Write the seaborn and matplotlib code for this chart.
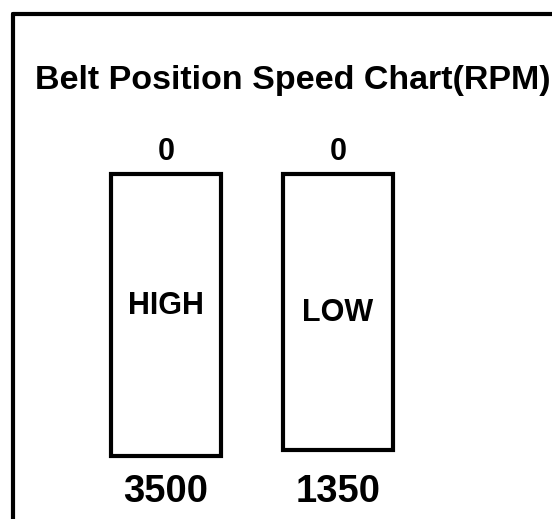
import matplotlib
matplotlib.use("Agg")
import matplotlib.pyplot as plt
import seaborn as sns
import pandas as pd

# Belt positions and their speeds (RPM)
positions = ["HIGH", "LOW"]
start_rpm = [0, 0]
end_rpm = [3500, 1350]
box_len = [1.0, 0.98]

df = pd.DataFrame({"position": positions, "length": box_len})

sns.set_style("white")
plt.rcParams["font.family"] = ["Liberation Sans", "DejaVu Sans"]
plt.rcParams["text.color"] = "black"

fig = plt.figure(figsize=(5.52, 5.19), dpi=100)
ax = fig.add_axes([0, 0, 1, 1])

sns.barplot(data=df, x="position", y="length", color="white",
            edgecolor="black", linewidth=3, width=0.635, ax=ax)

ax.set_xlim(-0.965, 2.244)
ax.set_ylim(1.223, -0.617)
ax.axis("off")

# labels around the boxes
label_y = [0.467, 0.492]
for i, pos in enumerate(positions):
    ax.text(i, -0.078, str(start_rpm[i]), ha="center", va="center",
            fontsize=22, fontweight="bold", color="black")
    ax.text(i, label_y[i], pos, ha="center", va="center",
            fontsize=22, fontweight="bold", color="black")
    ax.text(i, 1.127, str(end_rpm[i]), ha="center", va="center",
            fontsize=27.5, fontweight="bold", color="black")

fig.text(35 / 552, 1 - 80 / 519, "Belt Position Speed Chart(RPM)",
         ha="left", va="center", fontsize=24.5, fontweight="bold",
         color="black")

# outer frame (top and left edges visible)
fig.add_artist(plt.Line2D([13 / 552, 1], [1 - 14 / 519, 1 - 14 / 519],
                          color="black", linewidth=3))
fig.add_artist(plt.Line2D([13 / 552, 13 / 552], [0, 1 - 14 / 519],
                          color="black", linewidth=3))

fig.savefig("out.png", dpi=100, facecolor="white")
